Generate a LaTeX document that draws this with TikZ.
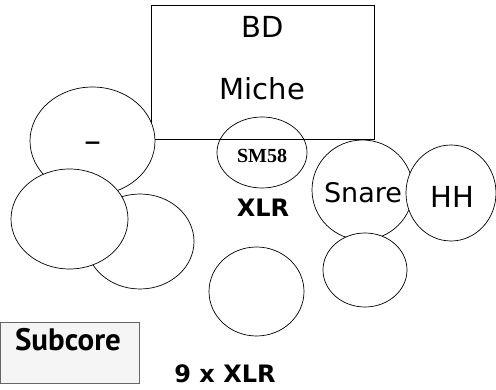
\documentclass[tikz,border=0pt]{standalone}
\usepackage{fontspec}
\setmainfont{DejaVu Sans}
\newfontfamily\labelfont{PT Sans}
\newfontfamily\micfont{Liberation Serif}
\usetikzlibrary{shapes.geometric}

\tikzset{
  drum/.style={draw, ellipse, fill=white, line width=0.7pt, inner sep=0pt},
  kitlabel/.style={anchor=base, inner sep=0pt, font=\fontsize{29}{30}\selectfont},
  cablelabel/.style={anchor=base, inner sep=0pt, font=\bfseries\fontsize{24}{26}\selectfont}
}

\begin{document}
\begin{tikzpicture}[x=1pt,y=-1pt]
\useasboundingbox (0,0) rectangle (496,390);
%bass drum box
\node[draw, line width=0.7pt, minimum width=223pt, minimum height=134pt, inner sep=0pt] (bd) at (262.5,72) {};
\node[kitlabel] (bdtext) at (262.5,38) {BD};
\node[kitlabel] (michetext) at (262.5,100) {Miche};

%toms on the left
\node[drum, minimum width=108pt, minimum height=95pt] (floortom) at (140,241.5) {};
\node[drum, minimum width=125pt, minimum height=108pt] (tomhigh) at (92.5,141) {};
\node[kitlabel, anchor=center, font=\fontsize{34}{34}\selectfont] (tomtext) at (92.5,147) {–};
\node[drum, minimum width=117pt, minimum height=100pt] (tomlow) at (69.5,219) {};

%mic
\node[draw, ellipse, line width=0.7pt, minimum width=90pt, minimum height=71pt] (mic) at (262,152.5) {};
\node[anchor=base, inner sep=0pt, font=\micfont\bfseries\fontsize{20}{22}\selectfont] (mictext) at (262,163) {SM58};
\node[cablelabel] (xlrtext) at (263,217) {XLR};

%snare, hihat, right side
\node[drum, minimum width=101pt, minimum height=100pt] (snare) at (362.5,190) {};
\node[kitlabel, font=\fontsize{27}{28}\selectfont] (snaretext) at (363,203) {Snare};
\node[drum, minimum width=84pt, minimum height=74pt] (tomright) at (365,270) {};
\node[drum, minimum width=90pt, minimum height=96pt] (hihat) at (451,193) {};
\node[kitlabel] (hhtext) at (452,208) {HH};

%bottom middle
\node[drum, minimum width=95pt, minimum height=89pt] (tombottom) at (256.5,291.5) {};

%subcore
\node[draw=black!60, fill=black!4, line width=0.7pt, minimum width=139pt, minimum height=61pt, inner sep=0pt] (subcore) at (69.5,352.5) {};
\node[cablelabel, font=\labelfont\bfseries\fontsize{31}{32}\selectfont] (subcoretext) at (68,351) {Subcore};
\node[cablelabel] (ninextext) at (225,383) {9 x XLR};
\end{tikzpicture}
\end{document}
